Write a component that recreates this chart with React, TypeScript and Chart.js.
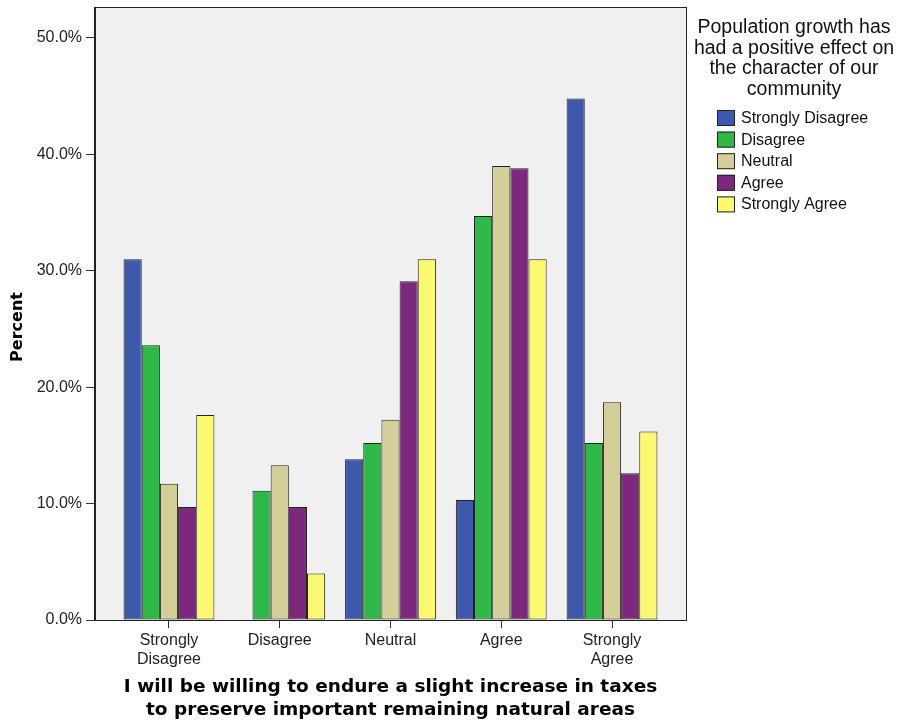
import React, { useEffect, useRef } from 'react';
import { Chart, registerables } from 'chart.js';

Chart.register(...registerables);

// ---- data ----
const categories: string[][] = [
  ['Strongly', 'Disagree'],
  ['Disagree'],
  ['Neutral'],
  ['Agree'],
  ['Strongly', 'Agree'],
];
const seriesNames = ['Strongly Disagree', 'Disagree', 'Neutral', 'Agree', 'Strongly Agree'];
const stronglyDisagree = [31.0, 0.0, 13.8, 10.3, 44.8];
const disagree = [23.6, 11.1, 15.2, 34.7, 15.2];
const neutral = [11.7, 13.3, 17.2, 39.0, 18.7];
const agree = [9.7, 9.7, 29.1, 38.8, 12.6];
const stronglyAgree = [17.6, 4.0, 31.0, 31.0, 16.2];
const yTicks = [0, 10, 20, 30, 40, 50];
const legendTitle = ['Population growth has', 'had a positive effect on', 'the character of our', 'community'];
const xTitle = ['I will be willing to endure a slight increase in taxes', 'to preserve important remaining natural areas'];
const yTitle = 'Percent';

const seriesValues = [stronglyDisagree, disagree, neutral, agree, stronglyAgree];
const colors = ['#3e58ab', '#2fb848', '#d4cf98', '#7c297d', '#fbf872'];

const SANS = "'Liberation Sans', Arial, sans-serif";
const BOLD = "'DejaVu Sans', sans-serif";

const framePlugin = {
  id: 'frame',
  beforeDraw(chart: any) {
    const { ctx, chartArea: a } = chart;
    ctx.save();
    ctx.fillStyle = '#f0f0f0';
    ctx.fillRect(a.left, a.top, a.right - a.left, a.bottom - a.top);
    ctx.restore();
  },
  afterDraw(chart: any) {
    const { ctx, chartArea: a } = chart;
    ctx.save();
    ctx.strokeStyle = '#222';
    ctx.lineWidth = 1;
    ctx.strokeRect(Math.round(a.left) - 0.5, Math.round(a.top) + 0.5, Math.round(a.right - a.left) + 1, Math.round(a.bottom - a.top));
    // y axis title
    ctx.fillStyle = '#000';
    ctx.font = `bold 16px ${BOLD}`;
    ctx.textAlign = 'center';
    ctx.textBaseline = 'middle';
    ctx.translate(18, 327);
    ctx.rotate(-Math.PI / 2);
    ctx.fillText(yTitle, 0, 0);
    ctx.restore();
  },
};

const legendPlugin = {
  id: 'customLegend',
  afterDraw(chart: any) {
    const { ctx } = chart;
    ctx.save();
    const cx = 794;
    ctx.fillStyle = '#111';
    ctx.font = `19.5px ${SANS}`;
    ctx.textAlign = 'center';
    ctx.textBaseline = 'middle';
    legendTitle.forEach((line, i) => {
      ctx.fillText(line, cx, 28 + i * 20.4);
    });
    ctx.font = `16px ${SANS}`;
    const boxX = 717;
    const top = 110;
    const step = 21.6;
    ctx.textAlign = 'left';
    chart.data.datasets.forEach((ds: any, i: number) => {
      const y = top + i * step;
      ctx.fillStyle = ds.backgroundColor;
      ctx.fillRect(boxX, y, 18, 16);
      ctx.strokeStyle = '#222';
      ctx.lineWidth = 1;
      ctx.strokeRect(boxX + 0.5, y + 0.5, 17, 15);
      ctx.fillStyle = '#111';
      ctx.fillText(ds.label, boxX + 24, y + 8.5);
    });
    ctx.restore();
  },
};

export default function App() {
  const ref = useRef<HTMLCanvasElement | null>(null);

  useEffect(() => {
    if (!ref.current) return;
    const chart = new Chart(ref.current, {
      type: 'bar',
      data: {
        datasets: seriesNames.map((name, s) => ({
          label: name,
          data: seriesValues[s].map((v, i) => ({ x: i, y: v })),
          backgroundColor: colors[s],
          borderColor: '#222',
          borderWidth: 1,
          borderSkipped: false,
          categoryPercentage: 0.82,
          barPercentage: 1,
        })),
      },
      options: {
        animation: false,
        responsive: true,
        maintainAspectRatio: false,
        layout: { padding: { top: 7, right: 212, left: 0, bottom: 0 } },
        plugins: {
          legend: { display: false },
          tooltip: { enabled: false },
        },
        scales: {
          x: {
            type: 'linear',
            offset: false,
            min: -0.668,
            max: 4.668,
            afterBuildTicks: (scale: any) => {
              scale.ticks = categories.map((_, i) => ({ value: i }));
            },
            afterFit: (scale: any) => {
              scale.height = 103;
              scale.paddingLeft = 0;
              scale.paddingRight = 0;
            },
            grid: {
              offset: false,
              drawOnChartArea: false,
              drawTicks: true,
              tickLength: 8,
              color: '#333',
            },
            border: { display: true, color: '#222' },
            ticks: {
              autoSkip: false,
              maxRotation: 0,
              padding: 3,
              color: '#222',
              font: { family: SANS, size: 16, lineHeight: 1.2 },
              callback: (v: any) => categories[Math.round(Number(v))] ?? '',
            },
            title: {
              display: true,
              text: xTitle,
              color: '#000',
              font: { family: BOLD, size: 18.5, weight: 'bold', lineHeight: 1.24 },
              padding: { top: 0, bottom: 1 },
            },
          },
          y: {
            min: 0,
            max: 52.66,
            afterBuildTicks: (scale: any) => {
              scale.ticks = yTicks.map((v) => ({ value: v }));
            },
            afterFit: (scale: any) => {
              scale.width = 95;
              scale.paddingTop = 0;
              scale.paddingBottom = 0;
            },
            grid: {
              drawOnChartArea: false,
              drawTicks: true,
              tickLength: 9,
              color: '#333',
            },
            border: { display: true, color: '#222' },
            ticks: {
              padding: 4,
              color: '#222',
              font: { family: SANS, size: 16 },
              callback: (v: any) => Number(v).toFixed(1) + '%',
            },
          },
        },
      },
      plugins: [framePlugin, legendPlugin],
    } as any);
    return () => chart.destroy();
  }, []);

  return (
    <div style={{ position: 'fixed', left: 0, top: 0, width: 898, height: 723, background: '#fff' }}>
      <canvas ref={ref} />
    </div>
  );
}
